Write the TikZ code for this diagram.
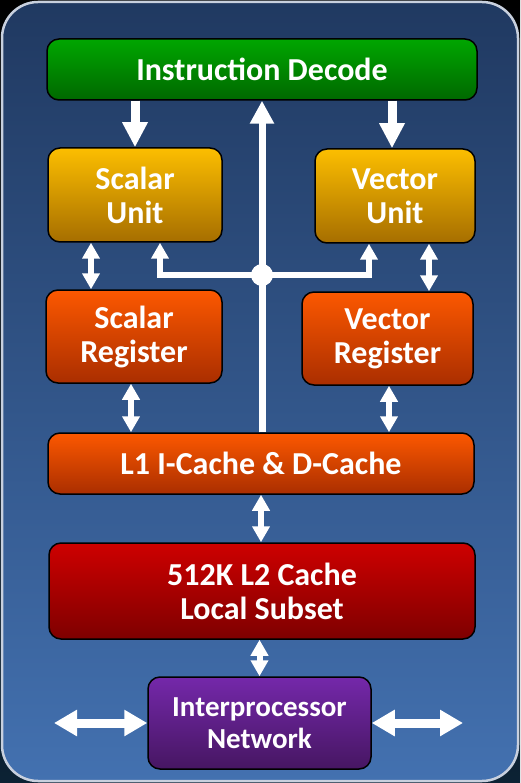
\documentclass[tikz,border=0pt]{standalone}
\usepackage{fontspec}
\setmainfont{Carlito}
\usetikzlibrary{arrows.meta, positioning}

\definecolor{frametop}{RGB}{32,57,97}
\definecolor{framebot}{RGB}{67,113,176}
\definecolor{framerim}{RGB}{200,208,222}
\definecolor{cornerbot}{RGB}{12,34,52}
\definecolor{greentop}{RGB}{0,166,0}
\definecolor{greenbot}{RGB}{0,104,0}
\definecolor{goldtop}{RGB}{252,190,0}
\definecolor{goldbot}{RGB}{166,110,0}
\definecolor{orangetop}{RGB}{252,88,0}
\definecolor{orangebot}{RGB}{170,46,0}
\definecolor{redtop}{RGB}{206,0,0}
\definecolor{redbot}{RGB}{126,0,0}
\definecolor{purpletop}{RGB}{116,40,170}
\definecolor{purplebot}{RGB}{70,22,98}

\begin{document}
\begin{tikzpicture}[x=1pt, y=-1pt,
	block/.style={rectangle, draw=black, line width=1.5pt, rounded corners=12pt, inner sep=0pt,
		text=white, align=center, font=\bfseries\fontsize{32}{34}\selectfont},
	decodeblk/.style={block, top color=greentop, bottom color=greenbot},
	unitblk/.style={block, top color=goldtop, bottom color=goldbot},
	regblk/.style={block, top color=orangetop, bottom color=orangebot},
	l2blk/.style={block, top color=redtop, bottom color=redbot},
	netblk/.style={block, top color=purpletop, bottom color=purplebot, font=\bfseries\fontsize{29}{32}\selectfont},
	hub/.style={circle, fill=white, minimum size=22pt, inner sep=0pt},
	bigarr/.style={draw=white, line width=9pt, -{Triangle[width=24pt,length=25pt]}},
	busarr/.style={draw=white, line width=7pt, -{Triangle[width=23pt,length=23pt]}},
	brarr/.style={draw=white, line width=6pt, -{Triangle[width=17pt,length=16pt]}},
	duoarr/.style={draw=white, line width=6pt, {Triangle[width=17pt,length=16pt]}-{Triangle[width=17pt,length=16pt]}},
	netarr/.style={draw=white, line width=9pt, {Triangle[width=25pt,length=23pt]}-{Triangle[width=25pt,length=23pt]}}]

\useasboundingbox (0,0) rectangle (520,783);
\shade[top color=black, bottom color=cornerbot] (0,0) rectangle (520,783);
\shadedraw[top color=frametop, bottom color=framebot, draw=framerim, line width=2.5pt, rounded corners=36pt]
	(2,2) rectangle (518,781);

% Nodes
\node[decodeblk, minimum width=430pt, minimum height=61pt] (decode) at (262,69.5) {Instruction Decode};
\node[unitblk, minimum width=174pt, minimum height=94pt] (sunit) at (135,195) {Scalar\\Unit};
\node[unitblk, minimum width=160pt, minimum height=94pt] (vunit) at (395,196) {Vector\\Unit};
\node[regblk, minimum width=176pt, minimum height=93pt] (sreg) at (134,336.5) {Scalar\\Register};
\node[regblk, minimum width=171pt, minimum height=93pt] (vreg) at (387.5,338.5) {Vector\\Register};
\node[regblk, minimum width=426pt, minimum height=61pt] (lone) at (261,463.5) {L1 I-Cache \& D-Cache};
\node[l2blk, minimum width=426pt, minimum height=96pt] (ltwo) at (262,591) {512K L2 Cache\\Local Subset};
\node[netblk, minimum width=223pt, minimum height=92pt] (net) at (259.5,723) {Interprocessor\\Network};

\coordinate (junc) at (262,275);
\coordinate (sIn) at ([xshift=25pt]sunit.south);
\coordinate (vIn) at ([xshift=-26pt]vunit.south);
\coordinate (sLink) at ([xshift=-44pt]sunit.south);
\coordinate (vLink) at ([xshift=34pt]vunit.south);
\coordinate (sDown) at ([xshift=-3pt]sreg.south);
\coordinate (vDown) at ([xshift=1.5pt]vreg.south);
\coordinate (wEnd) at (54,723);
\coordinate (eEnd) at (463,723);

% Transitions
\draw[bigarr] (sunit.north |- decode.south) -- (sunit.north);
\draw[bigarr] ([xshift=-3pt]vunit.north |- decode.south) -- ([xshift=-3pt]vunit.north);
\draw[busarr] (lone.north -| junc) -- (decode.south -| junc);
\draw[brarr] (junc) -| (sIn);
\draw[brarr] (junc) -| (vIn);
\node[hub] (hubdot) at (junc) {};
\draw[duoarr] (sLink) -- (sLink |- sreg.north);
\draw[duoarr] (vLink) -- (vLink |- vreg.north);
\draw[duoarr] (sDown) -- (sDown |- lone.north);
\draw[duoarr] (vDown) -- (vDown |- lone.north);
\draw[duoarr] (lone.south) -- (lone.south |- ltwo.north);
\draw[duoarr] (net.north) -- (net.north |- ltwo.south);
\draw[netarr] (wEnd) -- (net.west);
\draw[netarr] (net.east) -- (eEnd);
\end{tikzpicture}
\end{document}
